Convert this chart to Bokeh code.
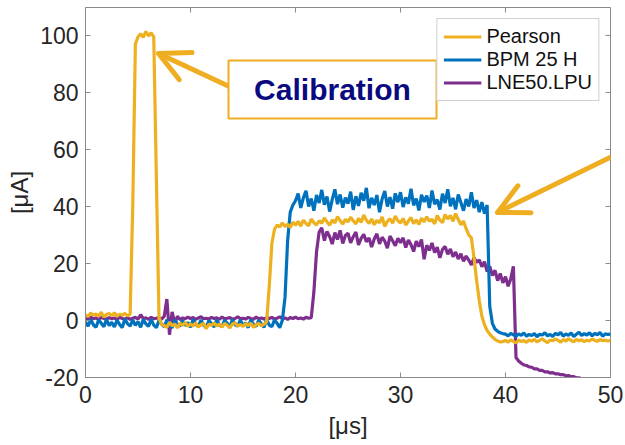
import numpy as np
from bokeh.plotting import figure
from bokeh.models import (Range1d, Legend, LegendItem, Arrow, OpenHead,
                          BoxAnnotation, Label, FixedTicker)
from bokeh.embed import file_html
from bokeh.resources import INLINE

# ---- data ----
t_us = np.round(np.arange(201) * 0.25, 2)   # sample clock, 0 .. 50 us

pearson = [
    2.0, 1.4, 2.6, 1.8, 2.3, 1.5, 2.9, 1.2, 2.1, 2.5,
    1.7, 2.7, 1.5, 2.2, 1.9, 2.5, 1.6, 2.2, 40.0, 97.0,
    99.5, 100.6, 99.3, 101.4, 99.8, 100.9, 99.5, 50.0, 1.0, -1.5,
    -1.8, -2.4, -0.6, -1.9, -1.2, -2.6, -1.0, -1.6, -0.7, -2.1,
    -1.2, -1.9, -0.8, -2.3, -1.5, -1.0, -2.9, -1.3, -1.7, -0.9,
    -1.9, -1.3, -2.3, -1.0, -1.7, -2.6, -1.2, -0.8, -2.0, -1.4,
    -2.1, -1.1, -1.8, -0.9, -2.4, -1.5, -1.0, -1.9, -1.3, -0.5,
    12.0, 27.0, 32.0, 33.5, 32.8, 34.2, 33.0, 33.8, 32.6, 34.5,
    33.4, 34.8, 33.1, 35.2, 34.0, 33.2, 35.6, 34.3, 33.5, 35.0,
    34.1, 36.0, 34.6, 33.4, 35.3, 34.2, 36.4, 35.0, 33.8, 35.5,
    34.6, 36.2, 35.0, 33.9, 35.8, 34.4, 37.0, 35.2, 34.0, 35.6,
    33.6, 35.1, 34.3, 36.3, 33.0, 34.8, 35.7, 34.1, 36.6, 35.0,
    34.2, 35.8, 33.5, 34.9, 36.1, 34.0, 35.3, 33.7, 35.9, 34.6,
    36.4, 34.8, 35.5, 33.9, 36.8, 35.2, 34.3, 37.2, 35.6, 36.9,
    34.8, 37.5, 35.4, 33.6, 34.9, 32.2, 30.0, 29.0, 22.0, 14.0,
    7.0, 1.5, -1.5, -3.5, -4.8, -5.8, -6.6, -7.2, -7.5, -7.4,
    -7.0, -7.6, -6.8, -7.3, -7.9, -6.9, -7.4, -7.0, -7.7, -6.8,
    -7.3, -6.6, -7.5, -7.0, -6.4, -7.2, -7.8, -6.9, -7.1, -6.5,
    -7.0, -7.6, -6.7, -7.2, -6.4, -7.0, -7.5, -6.6, -7.1, -6.8,
    -7.4, -6.9, -7.2, -6.5, -7.0, -7.3, -6.7, -7.1, -6.9, -7.2,
    -7.0,
]

bpm25h = [
    -0.5, -2.0, 0.3, -1.5, -2.4, 0.2, -1.0, -2.2, 0.4, -1.8,
    -0.6, -2.3, 0.1, -1.4, -2.5, 0.5, -1.1, -2.0, 0.2, -1.7,
    -0.4, -2.4, 0.3, -1.2, -2.1, 0.4, -1.6, -2.5, 0.0, -1.3,
    -2.2, 0.2, -1.0, -2.6, 0.3, -1.5, -2.0, 0.1, -1.8, -0.7,
    -2.4, 0.4, -1.3, -2.1, 0.2, -1.7, -2.5, 0.0, -1.1, -2.3,
    0.3, -1.6, -2.2, 0.1, -1.0, -2.4, 0.4, -1.5, -2.0, 0.2,
    -1.9, -0.8, -2.5, 0.3, -1.4, -2.1, 0.1, -1.2, -2.4, 0.4,
    -1.6, -2.2, 0.2, -1.0, -2.5, 0.1, 8.0, 28.0, 38.0, 40.5,
    42.0, 44.5, 39.5, 43.0, 45.5, 40.0, 42.8, 38.5, 44.0, 41.2,
    45.8, 40.6, 43.5, 38.2, 42.5, 46.0, 40.8, 44.2, 39.6, 43.1,
    41.0, 45.2, 38.8, 43.6, 40.2, 44.8, 42.0, 46.5, 39.4, 43.0,
    40.5, 44.0, 38.0, 42.6, 45.4, 40.0, 43.3, 39.2, 44.6, 41.5,
    45.0, 39.8, 43.2, 41.0, 46.2, 40.4, 42.8, 38.6, 44.1, 41.6,
    43.8, 39.5, 45.6, 40.8, 42.4, 38.9, 44.5, 41.2, 46.0, 40.1,
    43.0, 39.0, 44.2, 41.4, 38.5, 42.6, 40.0, 45.0, 39.5, 42.2,
    38.0, 41.5, 37.5, 40.5, 5.0, -1.0, -3.0, -3.8, -4.3, -4.6,
    -4.8, -5.4, -4.5, -5.0, -5.6, -4.7, -5.2, -4.4, -5.5, -4.9,
    -5.3, -4.6, -5.7, -4.8, -5.1, -4.3, -5.4, -4.9, -5.6, -4.5,
    -5.0, -4.2, -5.5, -4.7, -5.2, -4.4, -5.6, -4.8, -4.1, -5.3,
    -4.6, -5.1, -4.3, -5.4, -4.5, -5.0, -4.2, -5.5, -4.7, -4.9,
    -4.8,
]

lne50_lpu = [
    0.8, 0.4, 1.2, 0.6, 0.9, 0.3, 1.1, 0.7, 0.5, 1.0,
    0.6, 0.9, 0.3, 1.2, 0.7, 0.5, 1.0, 0.4, 0.8, 1.1,
    0.5, 2.0, 0.7, 0.9, 0.4, 1.1, 0.6, 0.8, 1.0, 0.5,
    1.5, 7.5, -5.0, 3.0, -1.2, 1.5, 0.3, 0.9, 0.6, 1.2,
    0.7, 1.0, 0.4, 0.9, 1.3, 0.6, 0.8, 0.5, 1.1, 0.7,
    0.9, 0.4, 1.2, 0.6, 0.8, 1.0, 0.5, 0.7, 1.3, 0.6,
    0.8, 0.5, 1.1, 0.7, 0.4, 1.2, 0.6, 0.9, 0.5, 1.0,
    0.7, 1.1, 0.5, 0.8, 1.3, 0.6, 0.9, 0.4, 1.0, 0.7,
    1.2, 0.6, 0.9, 0.5, 1.1, 0.8, 1.0, 10.0, 24.0, 31.0,
    32.5, 28.0, 31.2, 29.5, 26.8, 30.8, 28.4, 31.6, 27.0, 29.8,
    30.6, 27.2, 29.4, 31.0, 26.5, 28.8, 30.2, 27.6, 29.0, 25.8,
    28.6, 30.4, 26.9, 29.2, 27.8, 25.4, 29.6, 28.0, 26.2, 28.8,
    27.3, 29.0, 25.6, 28.2, 26.6, 24.2, 27.8, 25.9, 28.4, 21.5,
    26.4, 24.6, 27.2, 23.8, 25.7, 22.0, 24.9, 26.0, 23.2, 25.1,
    22.4, 24.0, 21.6, 23.4, 20.8, 22.6, 21.2, 19.5, 22.0, 20.4,
    21.3, 18.9, 20.6, 17.2, 19.0, 15.8, 17.6, 14.0, 16.5, 13.2,
    15.4, 12.0, 14.6, 19.0, -13.0, -14.2, -15.0, -15.6, -15.8, -16.3,
    -16.4, -17.0, -17.0, -17.5, -17.5, -18.0, -18.0, -18.4, -18.3, -18.7,
    -18.7, -19.0, -19.0, -19.4, -19.3, -19.7, -19.7, -20.1, -20.1, -20.5,
    -20.6, -20.9, -21.0, -21.3, -21.4, -21.7, -21.8, -22.1, -22.2, -22.5,
    -22.6,
]

series_names = ["Pearson", "BPM 25 H", "LNE50.LPU"]
series_colors = ["#EDB120", "#0072BD", "#7E2F8E"]
x_ticks = [0, 10, 20, 30, 40, 50]
y_ticks = [-20, 0, 20, 40, 60, 80, 100]
y_tick_labels = {-20: "-20"}
X_MIN, X_MAX = 0, 50
Y_MIN, Y_MAX = -20, 109.8

FONT = "Liberation Sans"
GOLD = "#EFAE22"
AXIS_GREY = "#8a8a8a"

FRAME_W, FRAME_H = 525, 370

p = figure(width=625, height=445, output_backend="svg", toolbar_location=None,
           x_range=Range1d(X_MIN, X_MAX), y_range=Range1d(Y_MIN, Y_MAX),
           min_border_left=85, min_border_right=15, min_border_top=7,
           min_border_bottom=68, background_fill_color="white",
           border_fill_color="white", outline_line_color=AXIS_GREY,
           outline_line_width=1)
p.grid.visible = False

for ax, ticks in ((p.xaxis[0], x_ticks), (p.yaxis[0], y_ticks)):
    ax.ticker = FixedTicker(ticks=ticks)
    ax.axis_line_color = AXIS_GREY
    ax.axis_line_width = 1
    ax.major_tick_line_color = AXIS_GREY
    ax.major_tick_in = 5
    ax.major_tick_out = 0
    ax.minor_tick_line_color = None
    ax.major_label_text_font = FONT
    ax.major_label_text_font_size = "23px"
    ax.major_label_text_color = "#262626"
    ax.axis_label_text_font = FONT
    ax.axis_label_text_font_size = "24px"
    ax.axis_label_text_font_style = "normal"
    ax.axis_label_text_color = "#262626"

p.yaxis[0].major_label_overrides = y_tick_labels
p.xaxis[0].axis_label = "[μs]"
p.yaxis[0].axis_label = "[μA]"
p.xaxis[0].major_label_standoff = 8
p.xaxis[0].axis_label_standoff = 6
p.yaxis[0].major_label_standoff = 7
p.yaxis[0].axis_label_standoff = 4

# inward tick marks on the top and right edges of the box (MATLAB "box on")
tick_dy = 5 * (Y_MAX - Y_MIN) / FRAME_H
tick_dx = 5 * (X_MAX - X_MIN) / FRAME_W
p.segment(x0=x_ticks, y0=[Y_MAX] * len(x_ticks), x1=x_ticks,
          y1=[Y_MAX - tick_dy] * len(x_ticks), line_color=AXIS_GREY, line_width=1)
p.segment(x0=[X_MAX] * len(y_ticks), y0=y_ticks, x1=[X_MAX - tick_dx] * len(y_ticks),
          y1=y_ticks, line_color=AXIS_GREY, line_width=1)

# draw order: purple under blue under gold
r_lne = p.line(t_us, lne50_lpu, line_color=series_colors[2], line_width=3.2)
r_bpm = p.line(t_us, bpm25h, line_color=series_colors[1], line_width=3.2)
r_pea = p.line(t_us, pearson, line_color=series_colors[0], line_width=3.2)

legend = Legend(items=[LegendItem(label=series_names[0], renderers=[r_pea]),
                       LegendItem(label=series_names[1], renderers=[r_bpm]),
                       LegendItem(label=series_names[2], renderers=[r_lne])],
                location="top_right", margin=11, padding=6, spacing=0,
                label_text_font=FONT, label_text_font_size="20px",
                label_text_color="#111111", label_height=23, glyph_height=23,
                glyph_width=38, label_standoff=5,
                border_line_color="#a0a0a0", border_line_width=1,
                background_fill_color="white", background_fill_alpha=1)
p.add_layout(legend)

# annotation arrows
head_kw = dict(line_color=GOLD, line_width=5, line_cap="round", line_join="round")
p.add_layout(Arrow(end=OpenHead(size=30, **head_kw),
                   x_start=14.1, y_start=81.4, x_end=6.95, y_end=93.7,
                   line_color=GOLD, line_width=5, line_cap="round"))
p.add_layout(Arrow(end=OpenHead(size=30, **head_kw),
                   x_start=51.9, y_start=60.7, x_end=39.24, y_end=37.9,
                   line_color=GOLD, line_width=5, line_cap="round"))

# calibration box
p.add_layout(BoxAnnotation(left=13.62, right=33.43, bottom=70.9, top=91.2,
                           fill_color="white", fill_alpha=1,
                           line_color=GOLD, line_width=2, line_alpha=1))
p.add_layout(Label(x=23.52, y=81.0, text="Calibration", text_align="center",
                   text_baseline="middle", text_font=FONT, text_font_size="30px",
                   text_font_style="bold", text_color="#0A0A80"))

open("out.html", "w").write(file_html(p, INLINE))
